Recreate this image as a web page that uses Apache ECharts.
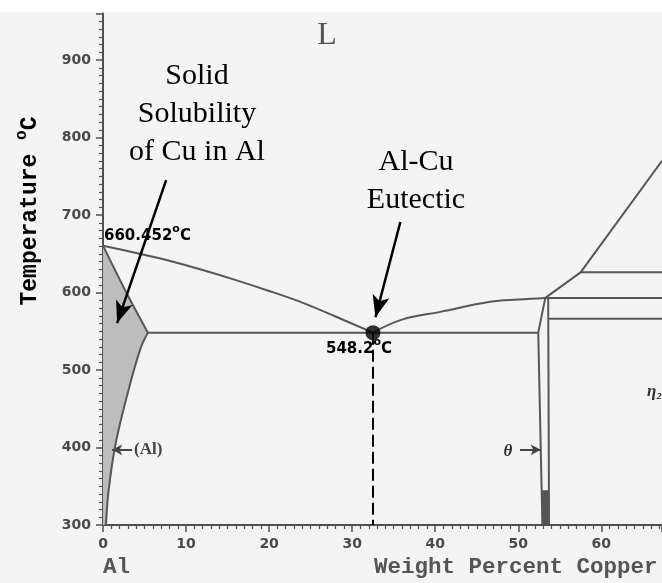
<!DOCTYPE html>
<html>
<head>
<meta charset="utf-8">
<title>Al-Cu phase diagram (Al-rich side)</title>
<script src="https://cdn.jsdelivr.net/npm/echarts@6/dist/echarts.min.js"></script>
<style>
  html, body { margin: 0; padding: 0; background: #ffffff; }
  #chart { width: 662px; height: 583px; }
</style>
</head>
<body>
<div id="chart"></div>
<script>
// ---- axes ----
const xRange = [0, 67.3];          // weight percent copper
const yRange = [300, 960];         // temperature, °C
const xTickStep = 10;
const yTickStep = 100;

// ---- phase boundaries (wt% Cu, °C) ----
const meltingAl = [0, 660.452];
const eutectic = [32.5, 548.2];
const maxSolubility = [5.4, 548.2];

const liquidusLeft = [[0, 660.452], [4, 651], [8, 641], [12, 629], [16, 616], [20, 602], [24, 587], [28, 569], [32.5, 548.2]];
const solidusAl = [[0, 660.452], [2.9, 598], [5.4, 548.2]];
const solvusAl = [[5.4, 548.2], [4.46, 526], [2.85, 465], [1.45, 401], [0.64, 341], [0.36, 303], [0.3, 300]];
const eutecticIsotherm = [[5.4, 548.2], [52.4, 548.2]];
const liquidusToTheta = [[32.5, 548.2], [36, 565], [40.6, 575], [46.6, 588], [50, 591], [53.25, 593]];
const thetaLeft = [[53.25, 593], [52.4, 548.2], [52.9, 300]];
const thetaRight = [[53.6, 593], [53.7, 300]];
const thetaFoot = [[52.9, 300], [52.82, 345], [53.7, 345], [53.7, 300]];
const liquidusRight = [[53.25, 593], [57.5, 626], [67.3, 770]];
const isotherm626 = [[57.5, 626], [67.3, 626]];
const isotherm593 = [[53.25, 593], [67.3, 593]];
const isotherm566 = [[53.7, 566], [67.3, 566]];

// ---- callout arrows ----
const arrowSolubility = [[7.6, 745], [1.7, 560.6]];
const arrowEutectic = [[35.8, 691], [32.8, 568]];
const arrowAlPhase = [[3.5, 397], [1.1, 397]];
const arrowTheta = [[50.2, 397], [52.7, 397]];

const alRegion = [[0, 300]].concat(solidusAl, solvusAl.slice(1));

const lineGrey = '#575757';
const axisGrey = '#505050';

function boundary(name, pts, smooth) {
  return {
    name: name, type: 'line', data: pts, showSymbol: false, smooth: smooth || 0,
    lineStyle: { color: lineGrey, width: 2 }, z: 3, silent: true
  };
}

function polygon(name, pts, fill) {
  return {
    name: name, type: 'custom', data: [[0, 0]], z: 2, silent: true,
    renderItem: function (params, api) {
      return { type: 'polygon', shape: { points: pts.map(function (p) { return api.coord(p); }) },
               style: { fill: fill } };
    }
  };
}

function arrow(pts, color, width, size) {
  return {
    silent: true, animation: false,
    symbol: ['none', 'arrow'], symbolSize: size,
    label: { show: false },
    lineStyle: { color: color, width: width, type: 'solid' },
    data: [[{ coord: pts[0] }, { coord: pts[1] }]]
  };
}

const chart = echarts.init(document.getElementById('chart'), null, { renderer: 'canvas' });

const serif = '"Liberation Serif", "Times New Roman", serif';
const mono = '"Liberation Mono", "Courier New", monospace';
const sans = '"DejaVu Sans", Arial, sans-serif';

const degreeRich = {
  n: { fontFamily: sans, fontSize: 15, fontWeight: 'bold', color: '#555', lineHeight: 20, verticalAlign: 'bottom' },
  s: { fontFamily: sans, fontSize: 11, fontWeight: 'bold', color: '#555', lineHeight: 20, verticalAlign: 'top' }
};

chart.setOption({
  animation: false,
  backgroundColor: '#ffffff',
  grid: { left: 103, right: 0, top: 13.5, bottom: 58 },
  xAxis: {
    type: 'value', min: xRange[0], max: xRange[1], interval: xTickStep,
    axisLine: { lineStyle: { color: axisGrey, width: 2 } },
    axisTick: { length: 7, lineStyle: { color: axisGrey, width: 1.5 } },
    minorTick: { show: true, splitNumber: 10, length: 4, lineStyle: { color: axisGrey, width: 1.2 } },
    splitLine: { show: false },
    axisLabel: { color: '#4a4a4a', fontFamily: sans, fontWeight: 'bold', fontSize: 14, margin: 12, showMaxLabel: false }
  },
  yAxis: {
    type: 'value', min: yRange[0], max: yRange[1], interval: yTickStep,
    axisLine: { lineStyle: { color: axisGrey, width: 2 } },
    axisTick: { length: 7, lineStyle: { color: axisGrey, width: 1.5 } },
    minorTick: { show: true, splitNumber: 10, length: 4, lineStyle: { color: axisGrey, width: 1.2 } },
    splitLine: { show: false },
    axisLabel: { color: '#4a4a4a', fontFamily: sans, fontWeight: 'bold', fontSize: 14, margin: 12, showMaxLabel: false }
  },
  graphic: [
    { type: 'rect', z: -10, shape: { x: 0, y: 12, width: 662, height: 571 }, style: { fill: '#f4f4f4' } },
    { type: 'text', x: 327, y: 52, style: { text: 'L', font: '32px ' + serif, fill: '#555', textAlign: 'center', textVerticalAlign: 'bottom' } },
    { type: 'text', x: 197, y: 91, style: { text: 'Solid', font: '30px ' + serif, fill: '#000', textAlign: 'center', textVerticalAlign: 'bottom' } },
    { type: 'text', x: 197, y: 129, style: { text: 'Solubility', font: '30px ' + serif, fill: '#000', textAlign: 'center', textVerticalAlign: 'bottom' } },
    { type: 'text', x: 197, y: 167, style: { text: 'of Cu in Al', font: '30px ' + serif, fill: '#000', textAlign: 'center', textVerticalAlign: 'bottom' } },
    { type: 'text', x: 416, y: 177, style: { text: 'Al-Cu', font: '30px ' + serif, fill: '#000', textAlign: 'center', textVerticalAlign: 'bottom' } },
    { type: 'text', x: 416, y: 215, style: { text: 'Eutectic', font: '30px ' + serif, fill: '#000', textAlign: 'center', textVerticalAlign: 'bottom' } },
    { type: 'text', x: 104, y: 234, style: { text: '{n|660.452}{s|o}{n|C}', textVerticalAlign: 'middle', rich: degreeRich } },
    { type: 'text', x: 326, y: 347, style: { text: '{n|548.2}{s|o}{n|C}', textVerticalAlign: 'middle', rich: degreeRich } },
    { type: 'text', x: 134, y: 450, style: { text: '(Al)', font: 'bold 17px ' + serif, fill: '#444', textVerticalAlign: 'middle' } },
    { type: 'text', x: 508, y: 452, style: { text: 'θ', font: 'italic bold 17px ' + serif, fill: '#333', textAlign: 'center', textVerticalAlign: 'middle' } },
    { type: 'text', x: 647, y: 392, style: { text: 'η₂', font: 'italic bold 17px ' + serif, fill: '#333', textVerticalAlign: 'middle' } },
    { type: 'text', x: 28, y: 211, rotation: Math.PI / 2, style: {
        text: '{n|Temperature }{s|o}{n|C}', textAlign: 'center', textVerticalAlign: 'middle',
        rich: { n: { fontFamily: mono, fontSize: 23, fontWeight: 'bold', color: '#5a5a5a', lineHeight: 28, verticalAlign: 'bottom' },
                s: { fontFamily: mono, fontSize: 16, fontWeight: 'bold', color: '#5a5a5a', lineHeight: 28, verticalAlign: 'top' } } } },
    { type: 'text', x: 103, y: 579, style: { text: 'Al', font: 'bold 22.5px ' + mono, fill: '#555', textVerticalAlign: 'bottom' } },
    { type: 'text', x: 374, y: 579, style: { text: 'Weight Percent Copper', font: 'bold 22.5px ' + mono, fill: '#555', textVerticalAlign: 'bottom' } }
  ],
  series: [
    polygon('(Al) field', alRegion, '#bdbdbd'),
    polygon('θ foot', thetaFoot, '#555'),
    boundary('liquidus (Al side)', liquidusLeft, 0.3),
    boundary('solidus', solidusAl, 0.3),
    boundary('solvus', solvusAl, 0.4),
    boundary('eutectic isotherm', eutecticIsotherm),
    boundary('liquidus (θ side)', liquidusToTheta, 0.4),
    boundary('θ left', thetaLeft),
    boundary('θ right', thetaRight),
    boundary('liquidus (Cu side)', liquidusRight),
    boundary('626 °C', isotherm626),
    boundary('593 °C', isotherm593),
    boundary('566 °C', isotherm566),
    {
      name: 'eutectic', type: 'scatter', data: [eutectic], symbolSize: 15, z: 6, silent: true,
      itemStyle: { color: '#000' },
      markLine: {
        silent: true, animation: false, symbol: ['none', 'none'], label: { show: false },
        lineStyle: { color: '#000', width: 2, type: [12, 5] },
        data: [[{ coord: eutectic }, { coord: [eutectic[0], yRange[0]] }]]
      }
    },
    { name: 'callout solubility', type: 'line', data: [], markLine: arrow(arrowSolubility, '#000', 2.5, [13, 22]), z: 7 },
    { name: 'callout eutectic', type: 'line', data: [], markLine: arrow(arrowEutectic, '#000', 2.5, [13, 22]), z: 7 },
    { name: 'callout (Al)', type: 'line', data: [], markLine: arrow(arrowAlPhase, '#444', 2, [8, 10]), z: 7 },
    { name: 'callout θ', type: 'line', data: [], markLine: arrow(arrowTheta, '#444', 2, [8, 10]), z: 7 }
  ]
});
</script>
</body>
</html>
